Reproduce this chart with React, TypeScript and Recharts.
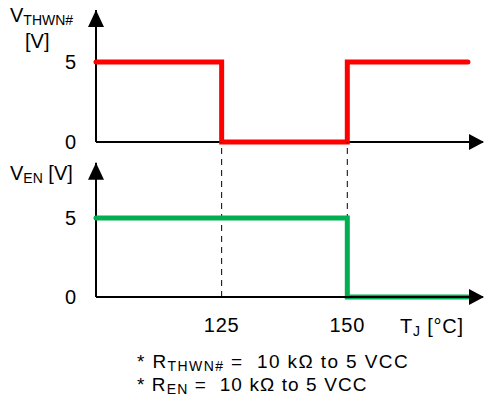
import { LineChart, Line, XAxis, YAxis, ReferenceLine, ReferenceDot } from "recharts";

const thwnTemps = [100, 125, 150, 174];
const thwnVolts = [5, 0, 5, 5];
const enTemps = [100, 150, 174];
const enVolts = [5, 0, 0];
const tempTicks = [125, 150];
const voltTicks = [0, 5];

const thwnData = thwnTemps.map((t, i) => ({ t, v: thwnVolts[i] }));
const enData = enTemps.map((t, i) => ({ t, v: enVolts[i] }));

const X_DOMAIN = [100, 177];
const FONT = "'Liberation Sans', Arial, Helvetica, sans-serif";

const ArrowUp = (props: any) => {
  const { cx, cy } = props;
  return <path d={`M${cx},${cy} L${cx - 8},${cy + 17} L${cx + 8},${cy + 17} Z`} fill="#000" />;
};

const ArrowRight = (props: any) => {
  const { cx, cy } = props;
  return <path d={`M${cx + 1},${cy} L${cx - 14},${cy - 8} L${cx - 14},${cy + 8} Z`} fill="#000" />;
};

const Sub = ({ children, size = 13 }: { children: any; size?: number }) => (
  <span style={{ fontSize: size, verticalAlign: "-3px" }}>{children}</span>
);

const App = () => {
  return (
    <div
      style={{
        position: "absolute",
        left: 0,
        top: 0,
        width: 484,
        height: 404,
        background: "#fff",
        fontFamily: FONT,
        color: "#000",
      }}
    >
      {/* upper panel: THWN# */}
      <div style={{ position: "absolute", left: 0, top: 0 }}>
        <LineChart width={484} height={165} data={thwnData} margin={{ top: 10, right: 1, bottom: 23, left: 0 }}>
          <XAxis dataKey="t" type="number" domain={X_DOMAIN} hide />
          <YAxis
            type="number"
            domain={[0, 8.25]}
            ticks={voltTicks}
            interval={0}
            width={96}
            axisLine={false}
            tickLine={false}
            tickSize={0}
            tickMargin={20}
            tick={{ fill: "#000", fontSize: 20 }}
          />
          <ReferenceLine y={0} stroke="#000" strokeWidth={2} />
          <ReferenceLine x={100} stroke="#000" strokeWidth={2} />
          <ReferenceDot x={100} y={8.25} r={0} shape={ArrowUp} />
          <ReferenceDot x={177} y={0} r={0} shape={ArrowRight} />
          <Line
            type="stepAfter"
            dataKey="v"
            stroke="#ff0000"
            strokeWidth={5}
            strokeLinecap="round"
            strokeLinejoin="miter"
            dot={false}
            activeDot={false}
            isAnimationActive={false}
          />
        </LineChart>
      </div>

      {/* lower panel: EN */}
      <div style={{ position: "absolute", left: 0, top: 142 }}>
        <LineChart width={484} height={195} data={enData} margin={{ top: 0, right: 1, bottom: 0, left: 0 }}>
          <XAxis
            dataKey="t"
            type="number"
            domain={X_DOMAIN}
            ticks={tempTicks}
            interval={0}
            height={40}
            axisLine={{ stroke: "#000", strokeWidth: 2 }}
            tickLine={false}
            tickSize={0}
            tickMargin={21}
            tick={{ fill: "#000", fontSize: 20, letterSpacing: 0.8 }}
          />
          <YAxis
            type="number"
            domain={[0, 9.81]}
            ticks={voltTicks}
            interval={0}
            width={96}
            axisLine={false}
            tickLine={false}
            tickSize={0}
            tickMargin={20}
            tick={{ fill: "#000", fontSize: 20 }}
          />
          {tempTicks.map((t) => (
            <ReferenceLine key={t} x={t} stroke="#000" strokeWidth={1} strokeDasharray="6 5" />
          ))}
          <ReferenceLine
            segment={[
              { x: 100, y: 0 },
              { x: 100, y: 8.5 },
            ]}
            stroke="#000"
            strokeWidth={2}
          />
          <ReferenceDot x={100} y={8.5} r={0} shape={ArrowUp} />
          <ReferenceDot x={177} y={0} r={0} shape={ArrowRight} />
          <Line
            type="stepAfter"
            dataKey="v"
            stroke="#00b050"
            strokeWidth={5}
            strokeLinecap="round"
            strokeLinejoin="miter"
            dot={false}
            activeDot={false}
            isAnimationActive={false}
          />
        </LineChart>
      </div>

      {/* axis titles and notes */}
      <div style={{ position: "absolute", left: 10, top: 5, fontSize: 20, lineHeight: 1, whiteSpace: "pre" }}>
        V<Sub size={14}>THWN#</Sub>
      </div>
      <div style={{ position: "absolute", left: 25, top: 31, fontSize: 20, lineHeight: 1 }}>[V]</div>
      <div style={{ position: "absolute", left: 10, top: 163, fontSize: 20, lineHeight: 1, whiteSpace: "pre" }}>
        V<Sub size={14}>EN</Sub> [V]
      </div>
      <div
        style={{
          position: "absolute",
          left: 400,
          top: 316,
          fontSize: 20,
          lineHeight: 1,
          whiteSpace: "pre",
          letterSpacing: 0.8,
        }}
      >
        T<Sub size={14}>J</Sub> [°C]
      </div>
      <div
        style={{
          position: "absolute",
          left: 137,
          top: 352,
          fontSize: 19,
          lineHeight: 1,
          whiteSpace: "pre",
          letterSpacing: 1.4,
        }}
      >
        * R<Sub size={14}>THWN#</Sub> =  10 kΩ to 5 VCC
      </div>
      <div
        style={{
          position: "absolute",
          left: 137,
          top: 375,
          fontSize: 19,
          lineHeight: 1,
          whiteSpace: "pre",
          letterSpacing: 1.1,
        }}
      >
        * R<Sub size={14}>EN</Sub> =  10 kΩ to 5 VCC
      </div>
    </div>
  );
};

export default App;
